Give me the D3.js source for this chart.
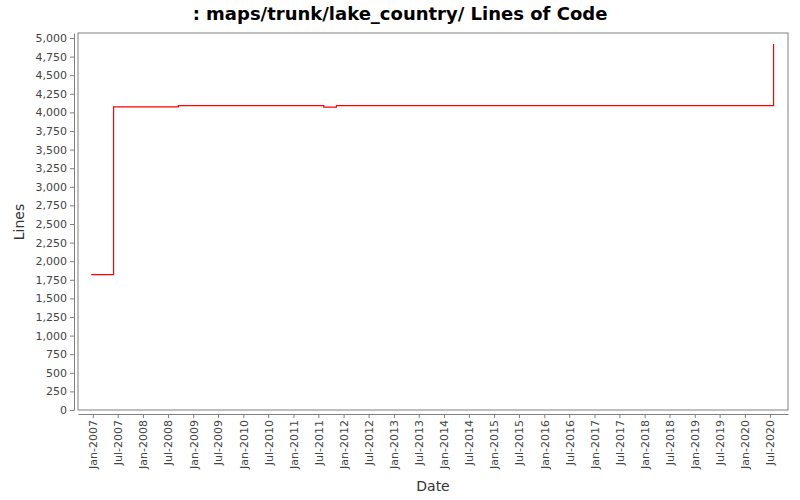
<!DOCTYPE html>
<html><head><meta charset="utf-8">
<script src="https://cdn.jsdelivr.net/npm/d3@7"></script>
<style>body{margin:0;background:#fff}text{font-family:"DejaVu Sans",sans-serif}</style>
</head><body><svg id="c" width="800" height="500"></svg>
<script>
const dates = ["2006-12-20","2007-06-01","2008-09-15","2011-08-10","2011-11-10","2020-07-27","2020-07-28"];
const lines = [1820,4075,4090,4070,4090,4090,4920];
const yTicks = d3.range(0,5001,250);
const xTickDates = [];
for(let y=2007;y<=2020;y++){xTickDates.push(new Date(y,0,1));xTickDates.push(new Date(y,6,1));}

const svg=d3.select("#c");
const L=78,T=33,R=788,B=410;
const x=d3.scaleTime().domain([new Date(2006,8,15),new Date(2020,10,10)]).range([L,R]);
const y=d3.scaleLinear().domain([0,5067]).range([B,T]);
const pts=dates.map((d,i)=>({d:new Date(d),v:lines[i]}));
svg.append("text").attr("x",400).attr("y",20).attr("text-anchor","middle").style("font-size","18px").style("font-weight","bold").text(": maps/trunk/lake_country/ Lines of Code");
svg.append("rect").attr("x",L).attr("y",T).attr("width",R-L).attr("height",B-T).attr("fill","#fff").attr("stroke","#808080");
const ya=svg.append("g").attr("transform",`translate(${L-4},0)`).call(d3.axisLeft(y).tickValues(yTicks).tickFormat(d3.format(",")).tickSize(4).tickSizeOuter(0));
const xa=svg.append("g").attr("transform",`translate(0,${B+4})`).call(d3.axisBottom(x).tickValues(xTickDates).tickFormat(d3.timeFormat("%b-%Y")).tickSize(4).tickSizeOuter(0));
xa.selectAll("text").attr("transform","rotate(-90)").attr("text-anchor","end").attr("dx",0).attr("dy","0.35em").attr("x",-6).attr("y",0);
[ya,xa].forEach(a=>{a.selectAll("path,line").attr("stroke","#808080");a.selectAll("text").attr("fill","#444").style("font-size","11px");});
svg.append("path").datum(pts).attr("fill","none").attr("stroke","red").attr("stroke-width",1.2)
  .attr("d",d3.line().x(d=>x(d.d)).y(d=>y(d.v)).curve(d3.curveStepAfter));
svg.append("text").attr("x",433).attr("y",491).attr("text-anchor","middle").style("font-size","14px").attr("fill","#333").text("Date");
svg.append("text").attr("transform","translate(24,222) rotate(-90)").attr("text-anchor","middle").style("font-size","14px").attr("fill","#333").text("Lines");
</script></body></html>
